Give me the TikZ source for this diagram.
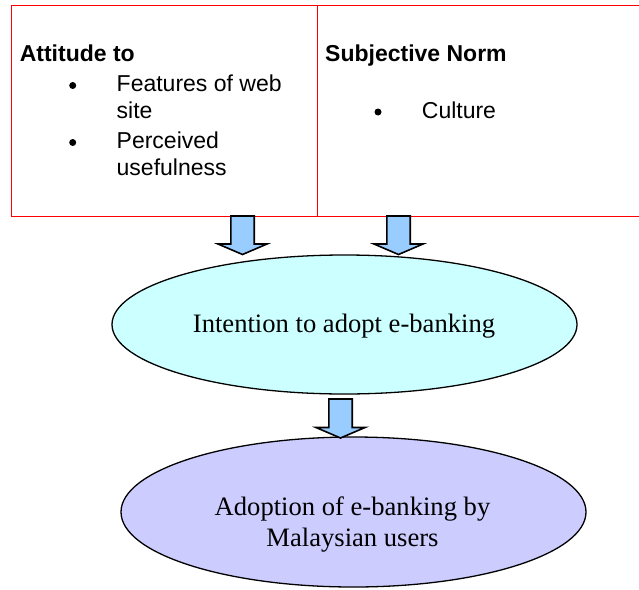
\documentclass[tikz,border=0pt]{standalone}
\usepackage{fontspec}
\setmainfont{Liberation Serif}
\newfontfamily\arialfont{Liberation Sans}
\usetikzlibrary{shapes.geometric}

\definecolor{arrowblue}{HTML}{99CCFF}
\definecolor{intentfill}{HTML}{CCFFFF}
\definecolor{adoptfill}{HTML}{CCCCFF}

\begin{document}
\begin{tikzpicture}[x=1pt, y=-1pt,
  frame/.style={draw=red, line width=1pt},
  itemtext/.style={font=\arialfont\fontsize{23}{26.7}\selectfont, anchor=base west, inner sep=0pt},
  headtext/.style={font=\arialfont\bfseries\fontsize{23}{26.7}\selectfont, anchor=base west, inner sep=0pt},
  dot/.style={circle, fill=black, minimum size=7pt, inner sep=0pt},
  bubble/.style={ellipse, draw=black, line width=1.3pt, inner sep=0pt},
  bubbletext/.style={font=\fontsize{26.6}{31}\selectfont, anchor=base, inner sep=0pt},
  blockdown/.pic={
    \draw[fill=arrowblue, line width=1.6pt, line join=miter]
      (-11.7,0) -- (11.7,0) -- (11.7,#1) -- (24.5,#1) -- (0,#1+10.5)
      -- (-24.5,#1) -- (-11.7,#1) -- cycle;
  }
]
\useasboundingbox (0,0) rectangle (639,589);

% two-column box, open on the right
\coordinate (boxtl) at (11.3,5.5);
\coordinate (boxbl) at (11.3,216);
\coordinate (boxtr) at (639,5.5);
\coordinate (boxbr) at (639,216);
\coordinate (midtop) at (317,5.5);
\coordinate (midbot) at (317,216);
\draw[frame] (boxtr) -- (boxtl) -- (boxbl) -- (boxbr);
\draw[frame] (midtop) -- (midbot);

% left column
\node[headtext] (att) at (19.6,61.5) {Attitude to};
\node[dot] (dot1) at (72.7,85.5) {};
\node[itemtext] (feat1) at (116.5,91.7) {Features of web};
\node[itemtext] (feat2) at (116.5,118.3) {site};
\node[dot] (dot2) at (72.7,142.5) {};
\node[itemtext] (perc1) at (116.5,148.3) {Perceived};
\node[itemtext] (perc2) at (116.5,175) {usefulness};

% right column
\node[headtext] (subj) at (325,61.5) {Subjective Norm};
\node[dot] (dot3) at (378,112) {};
\node[itemtext] (cult) at (421.7,118.3) {Culture};

% ellipses
\node[bubble, fill=intentfill, minimum width=465pt, minimum height=139pt] (intent) at (344.5,324.5) {};
\node[bubbletext] (intenttext) at (344,332) {Intention to adopt e-banking};

\node[bubble, fill=adoptfill, minimum width=465pt, minimum height=150pt] (adopt) at (353.5,512) {};
\node[bubbletext] (adopttext1) at (352.5,515) {Adoption of e-banking by};
\node[bubbletext] (adopttext2) at (352.5,546) {Malaysian users};

% block arrows
\coordinate (arrA) at (242.5,216);
\coordinate (arrB) at (398.5,216);
\coordinate (arrC) at (340.5,399);
\pic at (arrA) {blockdown=28};
\pic at (arrB) {blockdown=28};
\pic at (arrC) {blockdown=28.5};
\end{tikzpicture}
\end{document}
